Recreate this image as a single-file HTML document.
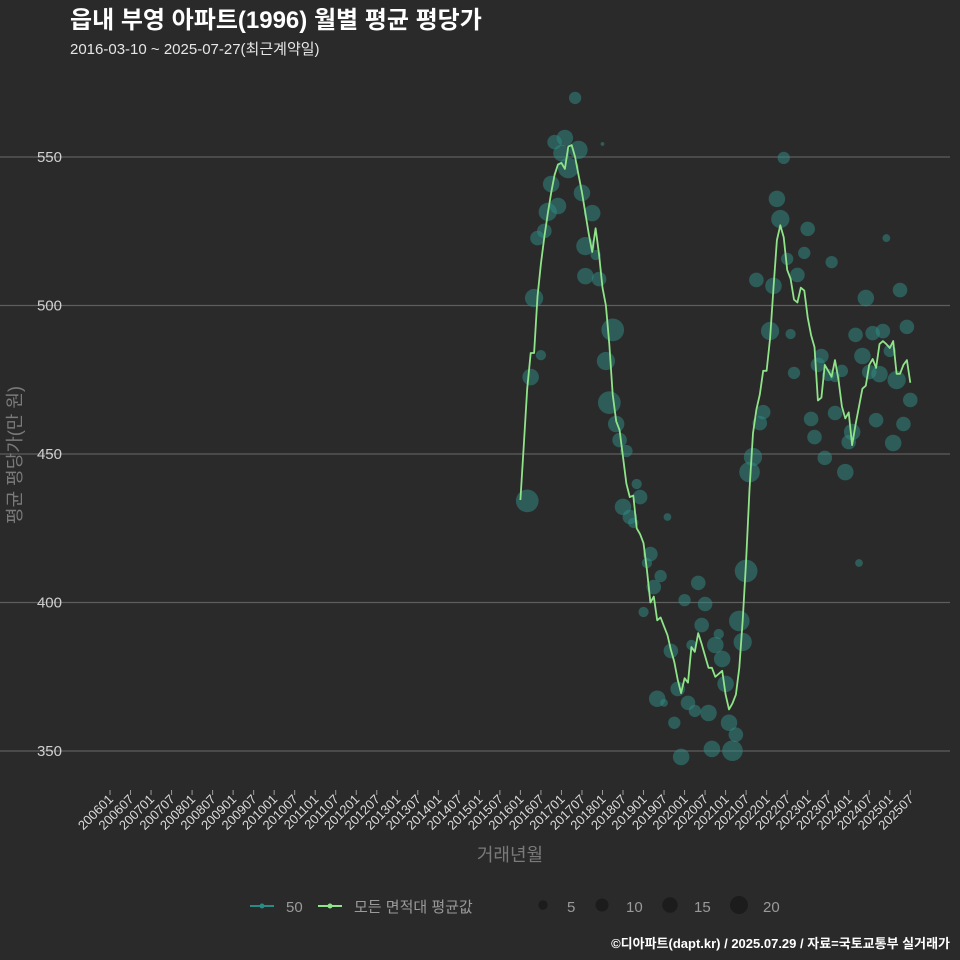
<!DOCTYPE html>
<html><head><meta charset="utf-8"><style>
html,body{margin:0;background:#2a2a2a;overflow:hidden;width:960px;height:960px;}
svg{display:block;}
svg text{font-family:"Liberation Sans","Noto Sans CJK KR",sans-serif;}
</style></head><body>
<svg id="c" width="960" height="960" xmlns="http://www.w3.org/2000/svg">
<rect width="960" height="960" fill="#2a2a2a"/>
<text x="70" y="28" font-size="24" font-weight="bold" fill="#ffffff">읍내 부영 아파트(1996) 월별 평균 평당가</text>
<text x="70" y="54" font-size="15" fill="#e6e6e6">2016-03-10 ~ 2025-07-27(최근계약일)</text>
<g id="grid"></g><g id="yt"></g><g id="xt"></g><g id="bub"></g><g id="ln"></g>
<text x="510" y="861" font-size="18" fill="#7a7a7a" text-anchor="middle">거래년월</text>
<text transform="translate(21,455) rotate(-90)" font-size="18" fill="#7a7a7a" text-anchor="middle">평균 평당가(만 원)</text>
<g>
<line x1="250" y1="906" x2="274" y2="906" stroke="#2a8a86" stroke-width="2"/>
<circle cx="262" cy="906" r="2.5" fill="#2a8a86"/>
<text x="286" y="912" font-size="15" fill="#9a9a9a">50</text>
<line x1="318" y1="906" x2="342" y2="906" stroke="#8fe388" stroke-width="2"/>
<circle cx="330" cy="906" r="2.5" fill="#8fe388"/>
<text x="354" y="912" font-size="15" fill="#9a9a9a">모든 면적대 평균값</text>
<circle cx="543" cy="905" r="4.7" fill="#1c1c1c"/>
<text x="567" y="912" font-size="15" fill="#9a9a9a">5</text>
<circle cx="602" cy="905" r="6.5" fill="#1c1c1c"/>
<text x="626" y="912" font-size="15" fill="#9a9a9a">10</text>
<circle cx="670" cy="905" r="7.7" fill="#1c1c1c"/>
<text x="694" y="912" font-size="15" fill="#9a9a9a">15</text>
<circle cx="739" cy="905" r="9" fill="#1c1c1c"/>
<text x="763" y="912" font-size="15" fill="#9a9a9a">20</text>
</g>
<text x="950" y="948" font-size="13" font-weight="bold" fill="#ffffff" text-anchor="end">©디아파트(dapt.kr) / 2025.07.29 / 자료=국토교통부 실거래가</text>
</svg>
<script>
const yTicks=[350,400,450,500,550];
const lineStart=120; // month index of first line point (201601)
const lineValues=[434.5,453,472,484,484,503,514,523,531,538,544,547.5,548,546,553.5,554,550,544,538,531,524,518,526,517,506,500,487,470,461,458,449,440,435.5,436,425,423,420,411,400,402,394,395,392,389,384,380,374,369.5,374.5,373,385,383.4,389.7,386,382,378,378,375,376,377,369,364,366,369,378,394,414,438,457,465,470,478,478,489,506,522,527,523,512,509,502,501,506,505,496,490,486,468,469,480,478,476,481.6,475,466,462,464,453,460,466,472,473,480,482,479,487,488,487,485.7,488,477,477,480,481.6,474];
const bubbleMonth=[2,3,6,4,5,7,8,11,9,10,13,12,14,17,16,24,18,21,19,22,19,23,27,25,26,28,29,31,34,35,30,32,33,43,38,37,41,39,52,36,48,54,53,64,66,58,57,65,50,44,59,60,46,40,42,49,51,55,45,61,63,62,56,47,70,71,68,67,77,75,76,84,83,91,107,78,69,74,81,111,101,73,79,98,103,106,113,100,88,87,108,80,94,92,90,102,105,110,114,92,85,104,97,86,112,96,109,89,95,99];
const bubbleValue=[434.2,475.9,483.3,502.5,522.7,525.1,531.5,533.5,540.9,555,556.4,551.3,546.3,552.4,569.9,554.4,537.9,531.1,520,517,509.9,508.9,491.8,481.3,467.3,460.1,454.7,451,439.9,435.5,432.2,428.8,426.8,428.8,416.3,413.3,408.9,405.2,406.6,396.8,400.8,399.5,392.4,393.8,410.6,389.4,385.7,386.7,385.7,383.7,381,372.6,370.9,367.6,366.2,366.2,363.5,362.8,359.5,359.5,355.5,350.1,350.7,348,460.4,464.1,449,443.9,549.7,535.9,529.1,525.8,517.7,514.6,522.7,515.7,508.6,506.6,510.3,505.2,502.5,491.4,490.4,490.1,490.7,491.4,492.8,483,483,480,484.7,477.3,478,475.9,476.6,477.6,476.9,474.9,468.2,463.8,461.8,461.4,457.4,455.7,460.1,454,453.7,448.7,443.9,413.3];
const bubbleCount=[34,18,7,22,14,14,22,18,18,14,18,18,28,22,10,1,18,18,22,7,18,14,34,22,34,18,14,10,7,14,18,14,7,4,14,7,10,14,14,7,10,14,14,28,34,7,18,22,7,14,18,18,14,18,4,14,10,18,10,18,14,28,18,18,14,14,22,28,10,18,22,14,10,10,4,10,14,18,14,14,18,22,7,14,14,14,14,18,14,14,10,10,10,7,10,14,18,22,14,14,14,14,18,14,14,14,18,14,18,4];
const xLabels=[];for(let y=2006;y<=2025;y++){xLabels.push(y+'01');xLabels.push(y+'07');}
const NS='http://www.w3.org/2000/svg';
const xs=m=>110+m*3.42;
const ys=v=>157+(550-v)*2.97;
const rs=n=>1.95*Math.sqrt(n);
function mk(t,a,p){const e=document.createElementNS(NS,t);for(const k in a)e.setAttribute(k,a[k]);document.getElementById(p).appendChild(e);return e;}
yTicks.forEach(v=>{
 const g=mk('line',{x1:0,x2:950,y1:ys(v),y2:ys(v),stroke:'#5e5e5e','stroke-width':1.2},'grid');
 
 
 const t=mk('text',{x:62,y:ys(v)+5,'font-size':15,fill:'#d0d0d0','text-anchor':'end'},'yt');
 t.textContent=v;
 
 
});
xLabels.forEach((l,i)=>{
 const x=xs(i*6);
 const tk=mk('line',{x1:x,x2:x,y1:790,y2:795,stroke:'#9a9a9a','stroke-width':1},'xt');
 
 
 const t=mk('text',{transform:`translate(${x+4},${800}) rotate(-45)`,'font-size':13,fill:'#dcdcdc','text-anchor':'end'},'xt');
 t.textContent=l;
 
 
});
bubbleMonth.forEach((m,i)=>{
 const c=mk('circle',{cx:xs(lineStart+m),cy:ys(bubbleValue[i]),r:rs(bubbleCount[i]),fill:'#2f8e88','fill-opacity':0.5},'bub');
 
 
});
const pts=lineValues.map((v,i)=>xs(lineStart+i).toFixed(1)+','+ys(v).toFixed(1)).join(' ');
const pl=mk('polyline',{points:pts,fill:'none',stroke:'#8fe388','stroke-width':1.8,'stroke-linejoin':'round'},'ln');


</script>
</body></html>
